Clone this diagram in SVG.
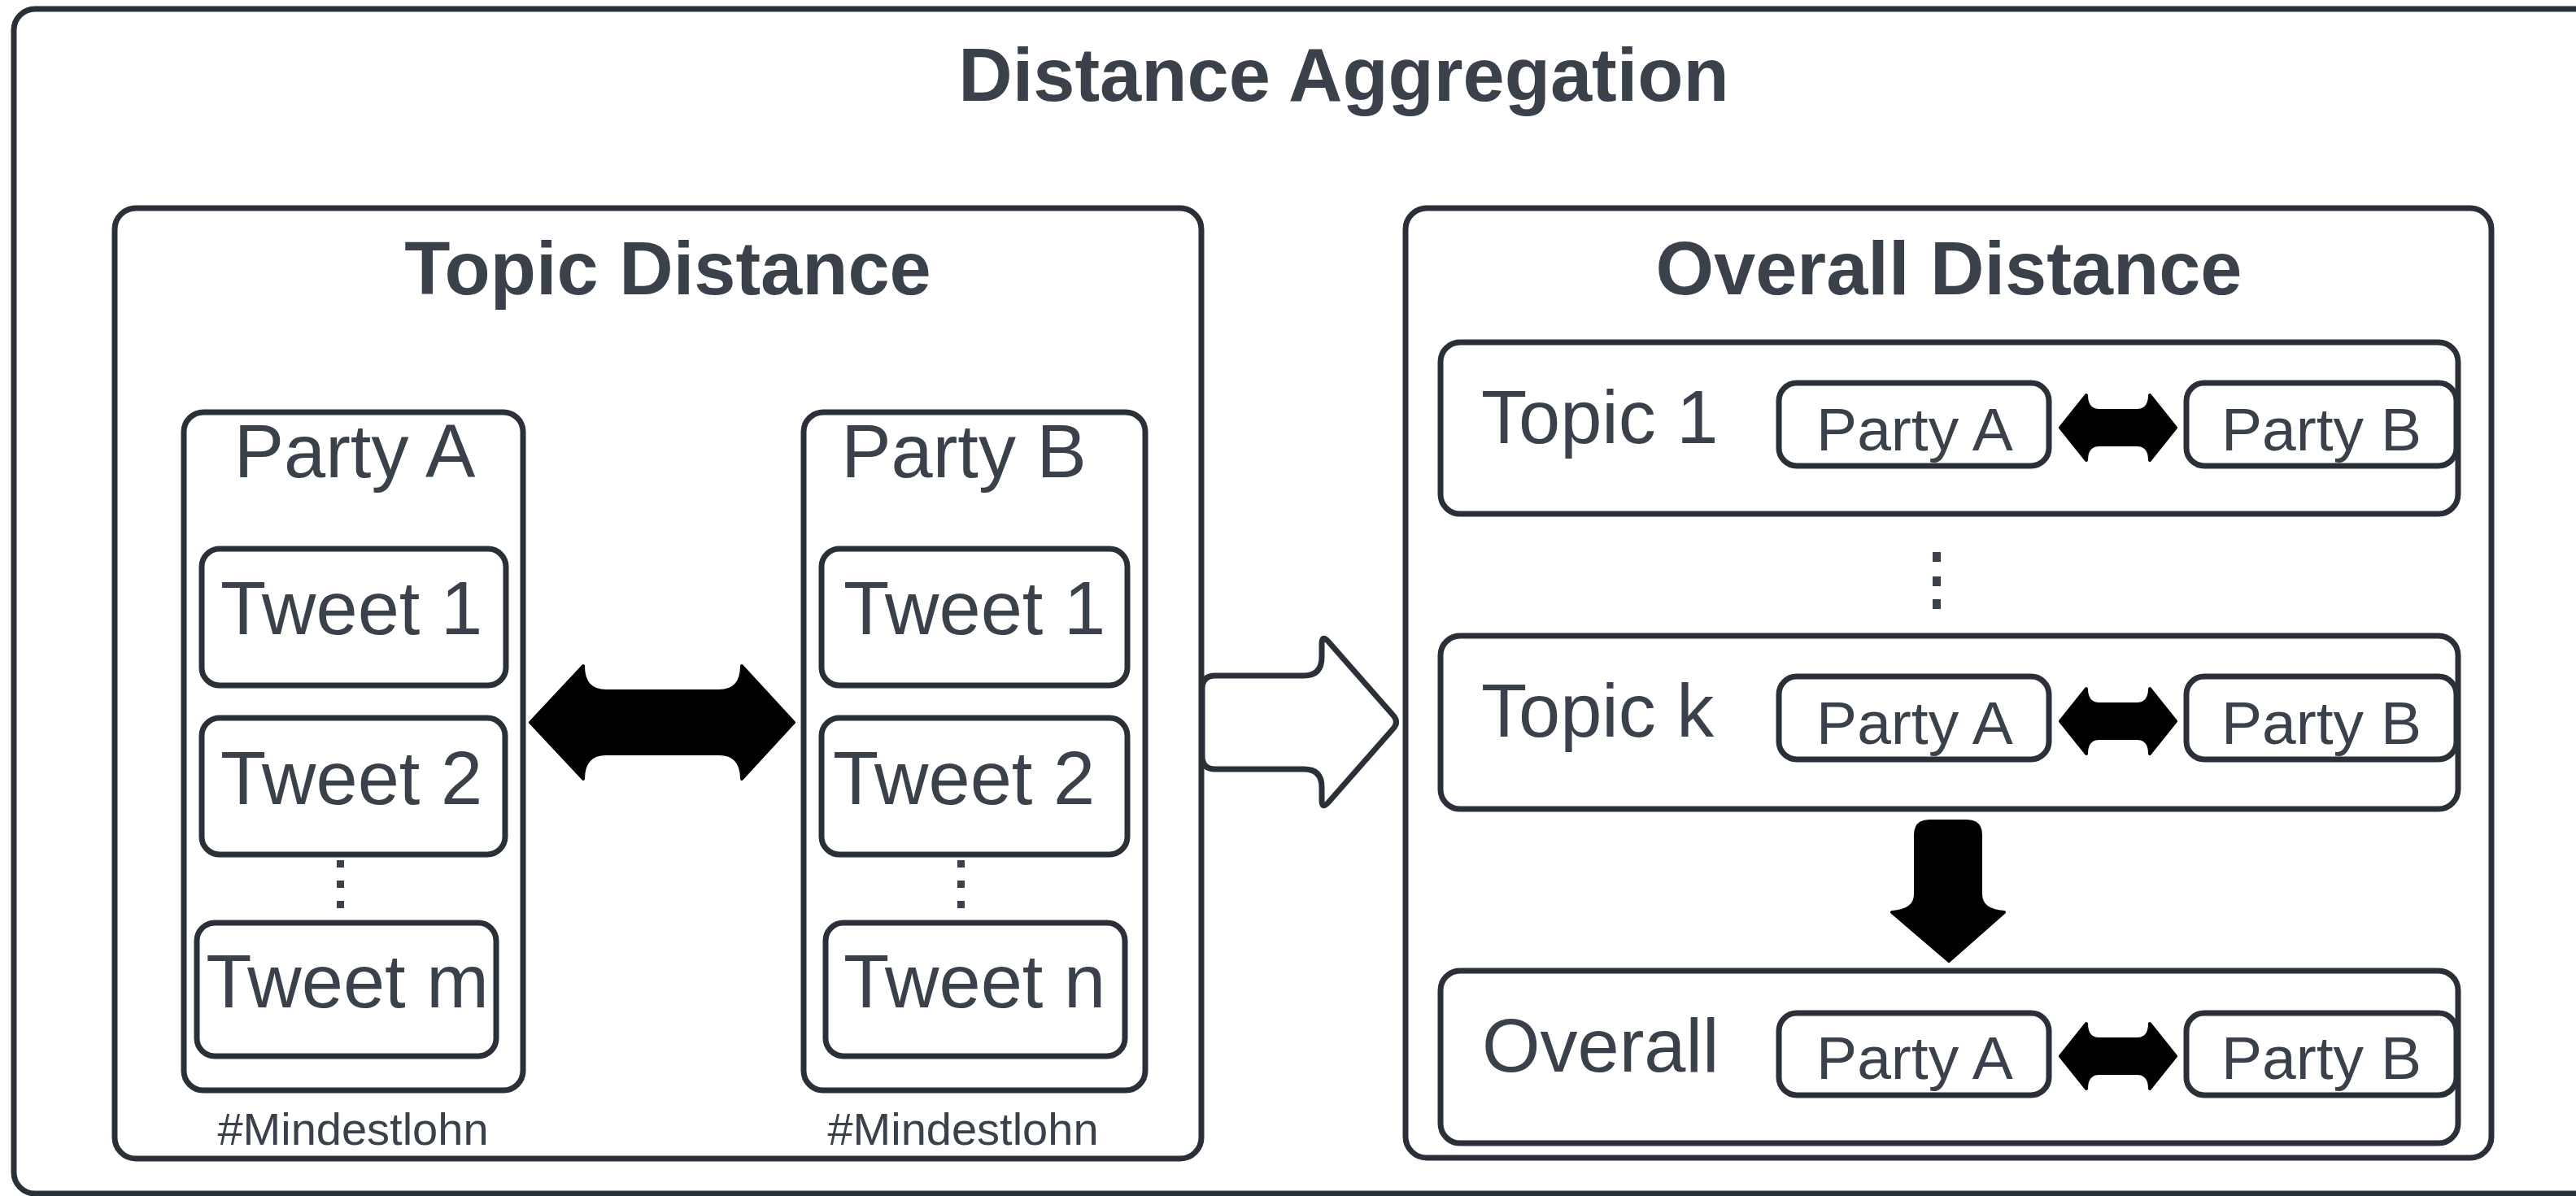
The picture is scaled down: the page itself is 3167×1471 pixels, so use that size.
<svg xmlns="http://www.w3.org/2000/svg" width="3167" height="1471" viewBox="0 0 3167 1471">
<style>
.box{fill:#ffffff;stroke:#2b3038;stroke-width:7}
.t{font-family:"Liberation Sans",Arial,sans-serif;fill:#3a414b;text-anchor:middle}
.st{text-anchor:start}
.b{font-weight:bold;font-size:92px}
.l{font-size:92px}
.s{font-size:75px}
.h{font-size:56px}
.blk{fill:#000000;stroke:#000000;stroke-width:4;stroke-linejoin:round}
.dot{fill:#3a414b}
</style>
<defs>
<path id="dbl" d="M -71 0 L -39 -40 Q -39 -21 -23 -21 L 23 -21 Q 39 -21 39 -40 L 71 0 L 39 40 Q 39 21 23 21 L -23 21 Q -39 21 -39 40 Z"/>
</defs>
<rect width="3167" height="1471" fill="#ffffff"/>

<g id="frame">
<rect class="box" x="17" y="11" width="3200" height="1457" rx="26"/>
<text class="t b" x="1652" y="124">Distance Aggregation</text>
</g>

<g id="topic-distance">
<rect class="box" x="141" y="256" width="1336" height="1169" rx="26"/>
<text class="t b" x="821" y="362">Topic Distance</text>
</g>

<g id="party-a">
<rect class="box" x="226" y="507" width="417" height="834" rx="24"/>
<text class="t l" x="436" y="587">Party A</text>
<text class="t h" x="434" y="1408">#Mindestlohn</text>
</g>
<g id="a-tweet1"><rect class="box" x="248" y="675" width="374" height="168" rx="22"/><text class="t l" x="432" y="780">Tweet 1</text></g>
<g id="a-tweet2"><rect class="box" x="248" y="883" width="373" height="168" rx="22"/><text class="t l" x="432" y="989">Tweet 2</text></g>
<g id="a-dots"><rect class="dot" x="414" y="1058" width="9" height="9"/><rect class="dot" x="414" y="1083" width="9" height="9"/><rect class="dot" x="414" y="1108" width="9" height="9"/></g>
<g id="a-tweetm"><rect class="box" x="242" y="1135" width="368" height="164" rx="22"/><text class="t l" x="427" y="1239">Tweet m</text></g>

<g id="party-b">
<rect class="box" x="988" y="507" width="420" height="834" rx="24"/>
<text class="t l" x="1185" y="587">Party B</text>
<text class="t h" x="1184" y="1408">#Mindestlohn</text>
</g>
<g id="b-tweet1"><rect class="box" x="1010" y="675" width="376" height="168" rx="22"/><text class="t l" x="1198" y="780">Tweet 1</text></g>
<g id="b-tweet2"><rect class="box" x="1010" y="883" width="376" height="168" rx="22"/><text class="t l" x="1185" y="989">Tweet 2</text></g>
<g id="b-dots"><rect class="dot" x="1177" y="1058" width="9" height="9"/><rect class="dot" x="1177" y="1083" width="9" height="9"/><rect class="dot" x="1177" y="1108" width="9" height="9"/></g>
<g id="b-tweetn"><rect class="box" x="1015" y="1135" width="368" height="164" rx="22"/><text class="t l" x="1198" y="1239">Tweet n</text></g>

<g id="overall-distance">
<rect class="box" x="1728" y="256" width="1335" height="1168" rx="26"/>
<text class="t b" x="2396" y="362">Overall Distance</text>
</g>

<g id="row-topic1">
<rect class="box" x="1771" y="421" width="1251" height="211" rx="24"/>
<text class="t l st" x="1821" y="545">Topic 1</text>
<rect class="box" x="2187" y="471" width="332" height="102" rx="22"/>
<text class="t s" x="2354" y="554">Party A</text>
<rect class="box" x="2688" y="471" width="332" height="102" rx="22"/>
<text class="t s" x="2854" y="554">Party B</text>
</g>

<g id="row-dots"><rect class="dot" x="2376" y="679" width="10" height="12"/><rect class="dot" x="2376" y="709" width="10" height="12"/><rect class="dot" x="2376" y="737" width="10" height="12"/></g>

<g id="row-topick">
<rect class="box" x="1771" y="782" width="1251" height="213" rx="24"/>
<text class="t l st" x="1821" y="906">Topic k</text>
<rect class="box" x="2187" y="832" width="332" height="102" rx="22"/>
<text class="t s" x="2354" y="915">Party A</text>
<rect class="box" x="2688" y="832" width="332" height="102" rx="22"/>
<text class="t s" x="2854" y="915">Party B</text>
</g>

<g id="row-overall">
<rect class="box" x="1771" y="1194" width="1251" height="212" rx="24"/>
<text class="t l st" x="1822" y="1318">Overall</text>
<rect class="box" x="2187" y="1246" width="332" height="101" rx="22"/>
<text class="t s" x="2354" y="1327">Party A</text>
<rect class="box" x="2688" y="1246" width="332" height="101" rx="22"/>
<text class="t s" x="2854" y="1327">Party B</text>
</g>

<g id="connectors">
<path class="blk" d="M 652 888.5 L 717 819 Q 717 850 745 850 L 884 850 Q 912 850 912 819 L 976 888.5 L 912 958 Q 912 927 884 927 L 745 927 Q 717 927 717 958 Z"/>
<path class="box" stroke-linejoin="round" d="M 1494 831 L 1603 831 Q 1625 831 1625 808 L 1625 792 Q 1625 780 1633 789 L 1713 880 Q 1720 888 1713 896 L 1633 987 Q 1625 996 1625 984 L 1625 968 Q 1625 946 1603 946 L 1494 946 Q 1478 946 1478 930 L 1478 847 Q 1478 831 1494 831 Z"/>
<use href="#dbl" class="blk" transform="translate(2604,526)"/>
<use href="#dbl" class="blk" transform="translate(2604,887)"/>
<use href="#dbl" class="blk" transform="translate(2604,1299)"/>
<path class="blk" d="M 2355 1027 Q 2355 1010 2372 1010 L 2418 1010 Q 2435 1010 2435 1027 L 2435 1100 Q 2435 1120 2464 1122 L 2396 1182 L 2326 1122 Q 2355 1120 2355 1100 Z"/>
</g>
</svg>
